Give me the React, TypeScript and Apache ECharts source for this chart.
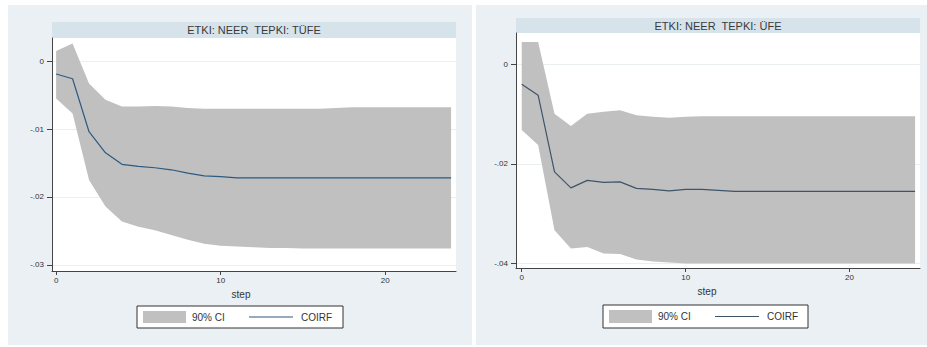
import React, { useEffect, useRef } from "react";
import * as echarts from "echarts";

const steps = [0, 1, 2, 3, 4, 5, 6, 7, 8, 9, 10, 11, 12, 13, 14, 15, 16, 17, 18, 19, 20, 21, 22, 23, 24];

const titles = ["ETKI: NEER  TEPKI: TÜFE", "ETKI: NEER  TEPKI: ÜFE"];
const legendLabels = ["90% CI", "COIRF"];
const xAxisTitle = "step";
const xTicks = [0, 10, 20];
const yTicksTufe = [0, -0.01, -0.02, -0.03];
const yTicksUfe = [0, -0.02, -0.04];

const tufeIrf = [-0.0019, -0.0026, -0.0104, -0.0135, -0.0152, -0.0155, -0.0157, -0.016, -0.0165, -0.0169, -0.017, -0.0172, -0.0172, -0.0172, -0.0172, -0.0172, -0.0172, -0.0172, -0.0172, -0.0172, -0.0172, -0.0172, -0.0172, -0.0172, -0.0172];
const tufeUpper = [0.0015, 0.0026, -0.0033, -0.0057, -0.0067, -0.0067, -0.0066, -0.0067, -0.0069, -0.007, -0.007, -0.007, -0.007, -0.007, -0.007, -0.007, -0.007, -0.0069, -0.0068, -0.0068, -0.0068, -0.0068, -0.0068, -0.0068, -0.0068];
const tufeLower = [-0.0055, -0.0077, -0.0175, -0.0214, -0.0236, -0.0244, -0.0249, -0.0256, -0.0263, -0.0269, -0.0272, -0.0273, -0.0274, -0.0275, -0.0275, -0.0276, -0.0276, -0.0276, -0.0276, -0.0276, -0.0276, -0.0276, -0.0276, -0.0276, -0.0276];

const ufeIrf = [-0.004, -0.0062, -0.0216, -0.0248, -0.0233, -0.0237, -0.0236, -0.0249, -0.0251, -0.0254, -0.0251, -0.0251, -0.0253, -0.0255, -0.0255, -0.0255, -0.0255, -0.0255, -0.0255, -0.0255, -0.0255, -0.0255, -0.0255, -0.0255, -0.0255];
const ufeUpper = [0.0045, 0.0045, -0.0099, -0.0124, -0.0099, -0.0095, -0.0092, -0.0102, -0.0105, -0.0107, -0.0105, -0.0104, -0.0104, -0.0104, -0.0104, -0.0104, -0.0104, -0.0104, -0.0104, -0.0104, -0.0104, -0.0104, -0.0104, -0.0104, -0.0104];
const ufeLower = [-0.0132, -0.0162, -0.0333, -0.037, -0.0367, -0.038, -0.0381, -0.0392, -0.0396, -0.0398, -0.04, -0.04, -0.04, -0.04, -0.04, -0.04, -0.04, -0.04, -0.04, -0.04, -0.04, -0.04, -0.04, -0.04, -0.04];

const FONT = "'Liberation Sans', Arial, sans-serif";
const CI_COLOR = "#c0c0c0";
const LINE_COLOR = "#2c5a82";
const AXIS_COLOR = "#444";
const TEXT_COLOR = "#333";

function fmt(v: number) {
  if (v === 0) return "0";
  const s = Math.abs(v).toFixed(2).replace(/^0/, "");
  return (v < 0 ? "-" : "") + s;
}

function panelSeries(idx: number, irf: number[], lower: number[], upper: number[], yTicks: number[], lineColor: string) {
  const irfData = steps.map((s, i) => [s, irf[i]]);
  return [
    {
      type: "line",
      xAxisIndex: idx,
      yAxisIndex: idx,
      data: [],
      symbol: "none",
      silent: true,
      z: 0,
      markLine: {
        silent: true,
        z: 0,
        symbol: "none",
        label: { show: false },
        lineStyle: { color: "#eaeff2", width: 1, type: "solid" },
        data: yTicks.map((v) => ({ yAxis: v })),
      },
    },
    {
      type: "custom",
      name: legendLabels[0],
      xAxisIndex: idx,
      yAxisIndex: idx,
      silent: true,
      z: 2,
      data: [[0, 0]],
      renderItem: (params: any, api: any) => {
        const pts: number[][] = [];
        steps.forEach((s, i) => pts.push(api.coord([s, upper[i]])));
        for (let i = steps.length - 1; i >= 0; i--) pts.push(api.coord([steps[i], lower[i]]));
        return {
          type: "polygon",
          shape: { points: pts },
          style: { fill: CI_COLOR, stroke: "none" },
        };
      },
    },
    {
      type: "line",
      name: legendLabels[1],
      xAxisIndex: idx,
      yAxisIndex: idx,
      data: irfData,
      symbol: "none",
      lineStyle: { color: lineColor, width: 1.2 },
      silent: true,
      z: 3,
    },
  ];
}

function xAxisCfg(idx: number, min: number, max: number, nameOffset: number) {
  return {
    type: "value",
    gridIndex: idx,
    min,
    max,
    name: xAxisTitle,
    nameLocation: "middle",
    nameGap: 18,
    nameTextStyle: { fontFamily: FONT, fontSize: 10, color: TEXT_COLOR, padding: [0, nameOffset, 0, 0] },
    axisLine: { show: true, onZero: false, lineStyle: { color: AXIS_COLOR, width: 1 } },
    axisTick: { show: true, length: 4, lineStyle: { color: AXIS_COLOR }, customValues: xTicks },
    axisLabel: { fontFamily: FONT, fontSize: 8, color: TEXT_COLOR, margin: 5, customValues: xTicks, formatter: (v: number) => String(v) },
    splitLine: { show: false },
  };
}

function yAxisCfg(idx: number, min: number, max: number, ticks: number[]) {
  return {
    type: "value",
    gridIndex: idx,
    min,
    max,
    axisLine: { show: true, onZero: false, lineStyle: { color: AXIS_COLOR, width: 1 } },
    axisTick: { show: true, length: 5, lineStyle: { color: AXIS_COLOR }, customValues: ticks },
    axisLabel: { fontFamily: FONT, fontSize: 8, color: TEXT_COLOR, margin: 8, customValues: ticks, formatter: (v: number) => fmt(v) },
    splitLine: { show: false },
  };
}

function legendGraphics(x: number, y: number, w: number, h: number, lineColor: string) {
  const cy = y + h / 2;
  return [
    { type: "rect", shape: { x, y, width: w, height: h }, style: { fill: "#ffffff", stroke: "#333", lineWidth: 1 }, z: 10 },
    { type: "rect", shape: { x: x + 6, y: y + 5, width: 43, height: h - 10 }, style: { fill: CI_COLOR }, z: 11 },
    { type: "text", x: x + 55, y: cy, style: { text: legendLabels[0], fontFamily: FONT, fontSize: 10, fill: TEXT_COLOR, verticalAlign: "middle" }, z: 11 },
    { type: "line", shape: { x1: x + 112, y1: cy, x2: x + 156, y2: cy }, style: { stroke: lineColor, lineWidth: 1.2 }, z: 11 },
    { type: "text", x: x + 164, y: cy, style: { text: legendLabels[1], fontFamily: FONT, fontSize: 10, fill: TEXT_COLOR, verticalAlign: "middle" }, z: 11 },
  ];
}

export default function App() {
  const ref = useRef<HTMLDivElement>(null);
  useEffect(() => {
    document.body.style.margin = "0";
    const chart = echarts.init(ref.current!, undefined, { renderer: "svg" });
    const option: any = {
      animation: false,
      backgroundColor: "#ffffff",
      graphic: [
        { type: "rect", shape: { x: 8, y: 5, width: 464, height: 340 }, style: { fill: "#eaf0f3" }, z: -10 },
        { type: "rect", shape: { x: 476, y: 5, width: 451, height: 340 }, style: { fill: "#eaf0f3" }, z: -10 },
        { type: "rect", shape: { x: 52, y: 22, width: 404, height: 16 }, style: { fill: "#d6e3ea" }, z: -9 },
        { type: "rect", shape: { x: 52, y: 38, width: 404, height: 233 }, style: { fill: "#ffffff" }, z: -9 },
        { type: "rect", shape: { x: 516, y: 18, width: 404, height: 15 }, style: { fill: "#d6e3ea" }, z: -9 },
        { type: "rect", shape: { x: 516, y: 33, width: 404, height: 235 }, style: { fill: "#ffffff" }, z: -9 },
        { type: "text", x: 254, y: 30, style: { text: titles[0], fontFamily: FONT, fontSize: 11, fill: "#3a3a3a", align: "center", verticalAlign: "middle" }, z: 5 },
        { type: "text", x: 718, y: 26, style: { text: titles[1], fontFamily: FONT, fontSize: 11, fill: "#3a3a3a", align: "center", verticalAlign: "middle" }, z: 5 },
        ...legendGraphics(137, 306, 206, 22, LINE_COLOR),
        ...legendGraphics(603, 305, 205, 23, "#3f5468"),
      ],
      grid: [
        { left: 52, right: 927 - 456, top: 38, bottom: 347 - 271 },
        { left: 516, right: 927 - 920, top: 33, bottom: 347 - 268 },
      ],
      xAxis: [xAxisCfg(0, -0.25, 24.3, 26), xAxisCfg(1, -0.35, 24.3, 22)],
      yAxis: [yAxisCfg(0, -0.0309, 0.0034, yTicksTufe), yAxisCfg(1, -0.0409, 0.0063, yTicksUfe)],
      series: [
        ...panelSeries(0, tufeIrf, tufeLower, tufeUpper, yTicksTufe, LINE_COLOR),
        ...panelSeries(1, ufeIrf, ufeLower, ufeUpper, yTicksUfe, "#3f5468"),
      ],
    };
    chart.setOption(option);
    return () => chart.dispose();
  }, []);
  return <div ref={ref} style={{ position: "absolute", left: 0, top: 0, width: 927, height: 347 }} />;
}
